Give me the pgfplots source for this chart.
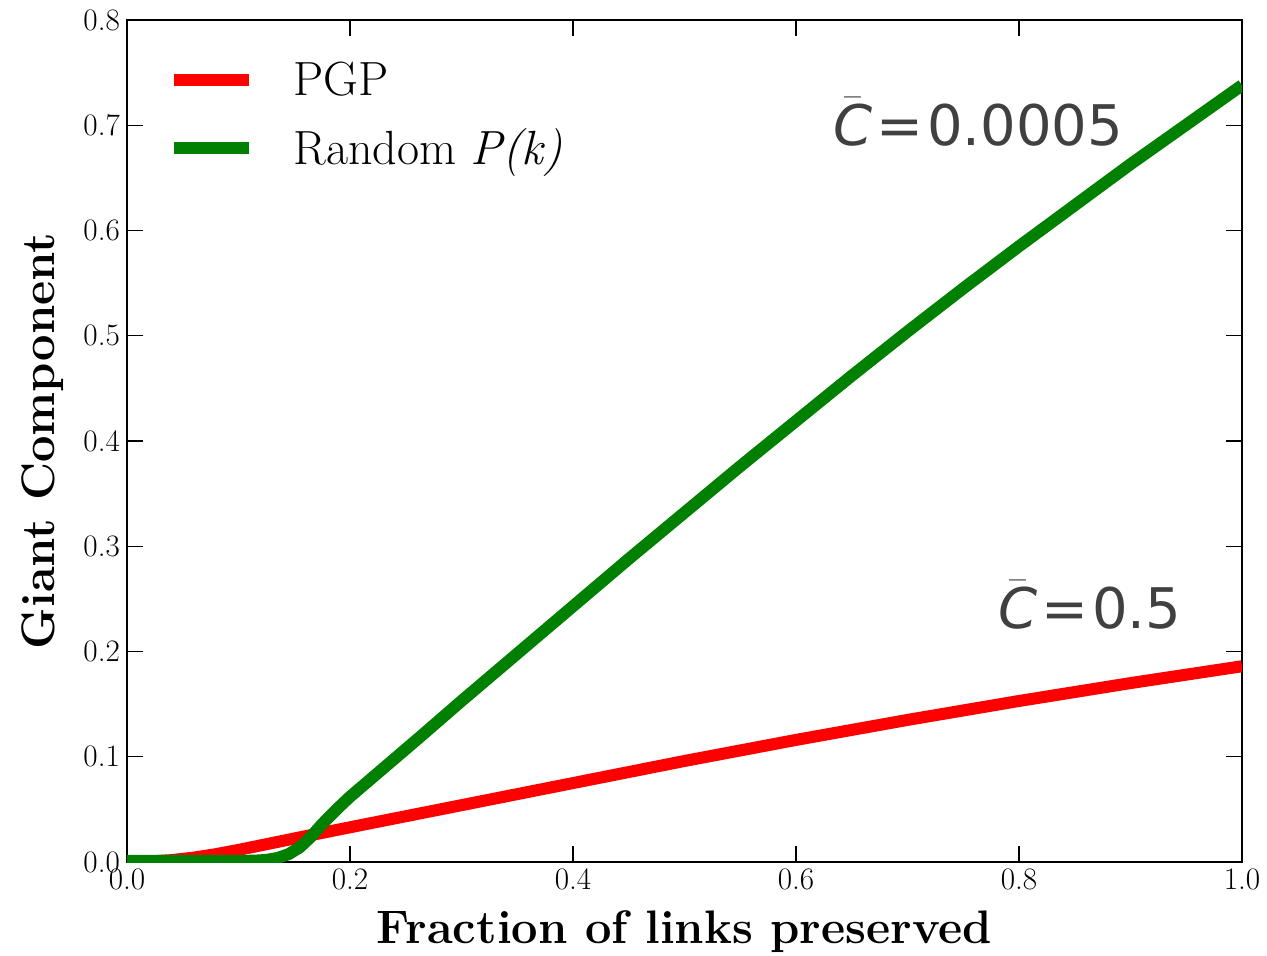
\documentclass[border=0pt]{standalone}
\usepackage{fontspec}
\usepackage{pgfplots}
\pgfplotsset{compat=1.18}
\newfontfamily\dejavu{DejaVu Sans}
\definecolor{pgpred}{RGB}{255,0,0}
\definecolor{rndgreen}{RGB}{0,128,0}
\definecolor{annot}{RGB}{64,64,64}

\begin{document}
\begin{tikzpicture}
\begin{axis}[
  scale only axis,width=557.5pt,height=421pt,
  xmin=0,xmax=1,ymin=0,ymax=0.8,
  xtick={0,0.2,...,1.0},ytick={0,0.1,...,0.8},
  xticklabels={0.0,0.2,0.4,0.6,0.8,1.0},
  yticklabels={0.0,0.1,0.2,0.3,0.4,0.5,0.6,0.7,0.8},
  tick align=inside,major tick length=8pt,
  axis line style={line width=1.1pt},
  every tick/.style={black,line width=0.6pt},
  tick label style={font=\fontsize{15.6}{18}\selectfont},
  xlabel={Fraction of links preserved},
  ylabel={Giant Component},
  label style={font=\fontsize{23.5}{27}\selectfont\bfseries},
  xlabel style={at={(axis description cs:0.5,-0.0962)},anchor=base},
  ylabel style={at={(axis description cs:-0.0646,0.5)},anchor=base},
  legend style={draw=none,fill=none,at={(axis description cs:0.036,0.888)},anchor=west,
    inner sep=0pt,row sep=15pt,font=\fontsize{24}{28}\selectfont,
    nodes={inner sep=0pt}},
  legend cell align=left,
  legend image code/.code={\draw[#1,line width=6pt] (0pt,0pt) -- (37.5pt,0pt);
    \path[draw=none] (0pt,0pt) -- (60pt,0pt);},
]
\addplot[pgpred,line width=6pt,line join=round] coordinates {
(0,0) (0.02,0.0005) (0.04,0.0018) (0.06,0.0042) (0.08,0.0075) (0.1,0.0115)
(0.13,0.018) (0.16,0.0245) (0.2,0.033) (0.3,0.054) (0.4,0.075) (0.5,0.096)
(0.6,0.116) (0.7,0.135) (0.8,0.153) (0.9,0.170) (1.0,0.186)};
\addlegendentry{PGP}
\addplot[rndgreen,line width=6pt,line join=round] coordinates {
(0,0.001) (0.05,0.001) (0.1,0.001) (0.115,0.0013) (0.125,0.002) (0.135,0.0038)
(0.145,0.0075) (0.155,0.014) (0.165,0.024) (0.175,0.036) (0.19,0.052) (0.2,0.062)
(0.263,0.119) (0.3,0.153) (0.35,0.198) (0.4,0.243) (0.45,0.288) (0.5,0.332)
(0.55,0.376) (0.6,0.419) (0.65,0.462) (0.7,0.504) (0.75,0.545) (0.8,0.585)
(0.85,0.624) (0.9,0.663) (1.0,0.738)};
\addlegendentry{Random \textit{P(k)}}
\node[anchor=base west,inner sep=0pt,text=annot,font=\dejavu\fontsize{28}{31}\selectfont]
  at (axis cs:0.633,0.681) {$\bar{\hbox{\dejavu\itshape C}}$\kern2pt=\kern2pt0.0005};
\node[anchor=base west,inner sep=0pt,text=annot,font=\dejavu\fontsize{28}{31}\selectfont]
  at (axis cs:0.781,0.222) {$\bar{\hbox{\dejavu\itshape C}}$\kern2pt=\kern2pt0.5};
\end{axis}
\pgfresetboundingbox
\path (-63.5pt,-46.5pt) rectangle (570pt,431pt);
\end{tikzpicture}
\end{document}
